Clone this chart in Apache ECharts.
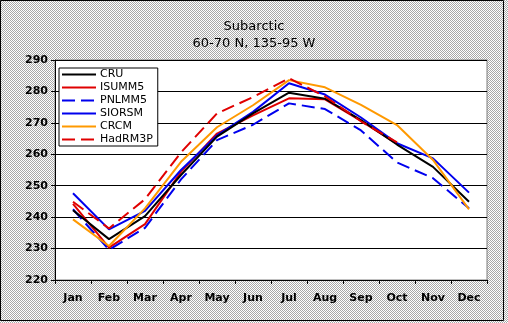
<!DOCTYPE html>
<html>
<head>
<meta charset="utf-8">
<script src="https://cdn.jsdelivr.net/npm/echarts@6/dist/echarts.min.js"></script>
<style>
  html, body { margin: 0; padding: 0; background: #fff; }
  #chart { width: 508px; height: 323px; }
</style>
</head>
<body>
<div id="chart"></div>
<script>
// Monthly mean temperature (K), 60-70 N, 135-95 W
const months = ['Jan', 'Feb', 'Mar', 'Apr', 'May', 'Jun', 'Jul', 'Aug', 'Sep', 'Oct', 'Nov', 'Dec'];
const yTicks = [220, 230, 240, 250, 260, 270, 280, 290];

const cru     = [242.2, 233.0, 240.3, 253.4, 265.6, 273.0, 279.6, 277.7, 270.9, 263.1, 256.0, 244.9];
const isumm5  = [244.2, 230.3, 237.8, 254.4, 266.6, 272.4, 277.8, 277.5, 270.6, 263.3, null, null];
const pnlmm5  = [242.5, 229.6, 236.6, 252.0, 264.5, 269.4, 276.2, 274.4, 267.6, 257.4, 252.4, 242.8];
const siorsm  = [247.6, 236.1, 242.0, 255.0, 266.0, 273.5, 282.6, 279.0, 271.7, 263.5, 258.7, 247.8];
const crcm    = [239.3, 230.8, 242.8, 257.6, 268.6, 275.6, 283.6, 281.3, 275.7, 269.3, 258.2, 242.5];
const hadrm3p = [244.9, 236.4, 245.7, 260.6, 273.0, 278.2, 284.2, 278.4, 270.5, 263.8, null, null];

// Dithered silver backdrop: 2x2 checker of white and grey
const tile = document.createElement('canvas');
tile.width = 2; tile.height = 2;
const tctx = tile.getContext('2d');
tctx.fillStyle = '#ffffff'; tctx.fillRect(0, 0, 2, 2);
tctx.fillStyle = '#a8a8a8'; tctx.fillRect(0, 0, 1, 1); tctx.fillRect(1, 1, 1, 1);

const font = 'DejaVu Sans, Verdana, sans-serif';
const dash = [13, 6];

function line(name, data, color, dashed, z) {
  return {
    name: name,
    type: 'line',
    data: data,
    symbol: 'none',
    z: z,
    connectNulls: false,
    lineStyle: { color: color, width: 2, type: dashed ? dash : 'solid' },
    itemStyle: { color: color },
    emphasis: { disabled: true },
    animation: false
  };
}

const chart = echarts.init(document.getElementById('chart'), null, { renderer: 'canvas' });
chart.setOption({
  animation: false,
  backgroundColor: { image: tile, repeat: 'repeat' },
  title: {
    text: 'Subarctic\n60-70 N, 135-95 W',
    left: 'center',
    top: 13,
    textStyle: { fontFamily: font, fontSize: 13, fontWeight: 'normal', color: '#000', lineHeight: 17, align: 'center' }
  },
  legend: {
    orient: 'vertical',
    left: 59,
    top: 68,
    itemWidth: 34,
    itemHeight: 12,
    itemGap: 2,
    padding: [1, 5, 1, 2],
    backgroundColor: '#ffffff',
    borderColor: '#000000',
    borderWidth: 1,
    borderRadius: 0,
    itemStyle: { opacity: 0, borderWidth: 0 },
    textStyle: { fontFamily: font, fontSize: 11, color: '#000', padding: [0, 0, 0, -1] },
    data: ['CRU', 'ISUMM5', 'PNLMM5', 'SIORSM', 'CRCM', 'HadRM3P']
  },
  grid: {
    left: 55, top: 60, right: 21, bottom: 43,
    show: true, backgroundColor: '#ffffff', borderColor: '#808080', borderWidth: 1
  },
  xAxis: {
    type: 'category',
    data: months,
    boundaryGap: true,
    axisLine: { lineStyle: { color: '#000', width: 1 } },
    axisTick: { show: true, length: 4, inside: false, lineStyle: { color: '#000' } },
    axisLabel: { fontFamily: font, fontSize: 11, fontWeight: 'bold', color: '#000', margin: 13, interval: 0 }
  },
  yAxis: {
    type: 'value',
    min: yTicks[0],
    max: yTicks[yTicks.length - 1],
    interval: 10,
    axisLine: { show: true, lineStyle: { color: '#000', width: 1 } },
    axisTick: { show: true, length: 4, inside: false, lineStyle: { color: '#000' } },
    splitLine: { show: true, lineStyle: { color: '#000', width: 1 } },
    axisLabel: { fontFamily: font, fontSize: 11, fontWeight: 'bold', color: '#000', margin: 7 }
  },
  series: [
    line('CRU', cru, '#000000', false, 5),
    line('ISUMM5', isumm5, '#e00000', false, 2),
    line('PNLMM5', pnlmm5, '#0000ee', true, 3),
    line('SIORSM', siorsm, '#0000ee', false, 4),
    line('CRCM', crcm, '#ff9900', false, 6),
    line('HadRM3P', hadrm3p, '#e00000', true, 7)
  ],
  graphic: [{
    type: 'rect',
    shape: { x: 0.5, y: 0.5, width: 503, height: 320 },
    style: { fill: null, stroke: '#000', lineWidth: 1 },
    silent: true,
    z: 100
  }]
});
</script>
</body>
</html>
